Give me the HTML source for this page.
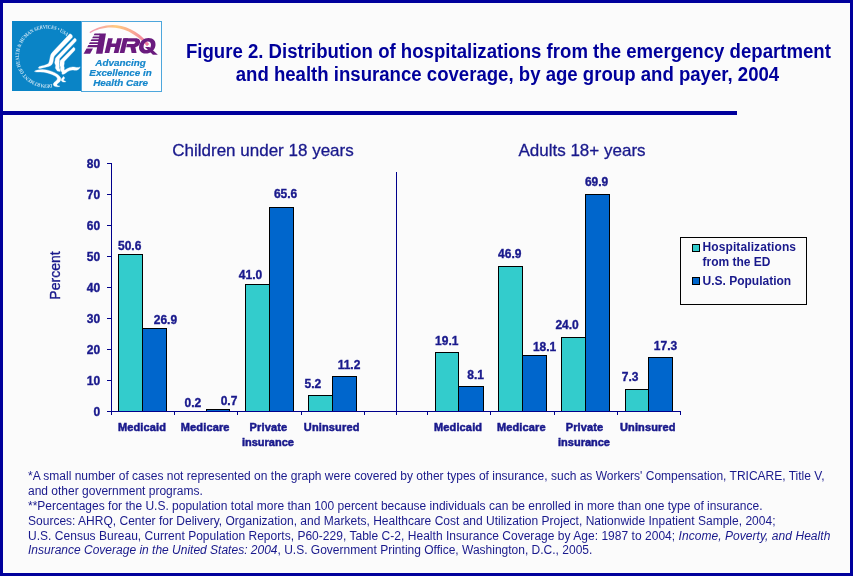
<!DOCTYPE html><html><head><meta charset="utf-8"><title>Figure 2</title>
<style>html,body{margin:0;padding:0;background:#FBFBFB;}body{width:853px;height:576px;overflow:hidden;position:relative;font-family:"Liberation Sans",sans-serif;}svg{position:absolute;left:0;top:0;will-change:transform;}text{font-family:"Liberation Sans",sans-serif;}</style></head><body>
<svg width="853" height="576" viewBox="0 0 853 576">
<defs><linearGradient id="arc" x1="0" x2="1" y1="0" y2="0"><stop offset="0" stop-color="#F08CB4"/><stop offset="0.45" stop-color="#FFC878"/><stop offset="0.75" stop-color="#F8A090"/><stop offset="1" stop-color="#F070A0"/></linearGradient></defs>
<rect x="0" y="0" width="853" height="576" fill="#FBFBFB"/>
<g shape-rendering="crispEdges" fill="#00009C">
<rect x="0" y="0" width="853" height="3"/><rect x="0" y="573" width="853" height="3"/><rect x="0" y="0" width="3" height="576"/><rect x="850" y="0" width="3" height="576"/>
<rect x="0" y="111" width="737" height="4"/>
</g>
<g id="logo">
<rect x="12" y="21" width="69" height="70" fill="#0A84C6" shape-rendering="crispEdges"/>
<rect x="81.5" y="21.5" width="80" height="69.5" fill="#FDFDFD" stroke="#4DA6DC" stroke-width="1" shape-rendering="crispEdges"/>
<path id="ring" d="M 52.0 84.0 A 28 28 0 1 1 66.4 36.3" fill="none"/>
<text style="font-family:'Liberation Serif',serif" font-weight="bold" font-size="5.2px" fill="#E4F1FA" opacity="0.9"><textPath href="#ring" textLength="114.4" lengthAdjust="spacingAndGlyphs">DEPARTMENT OF HEALTH &amp; HUMAN SERVICES • USA</textPath></text>
<g transform="translate(30,28) scale(0.11111)" fill="#FFFFFF" stroke="#FFFFFF" stroke-width="3" stroke-linejoin="round">
<!-- stripe A + beak -->
<path d="M 358,52 C 376,56 388,70 380,86 L 222,250 C 212,262 212,280 208,302 C 204,326 192,340 168,346 L 92,364 C 76,366 70,356 82,348 C 104,340 146,336 166,320 C 178,300 178,268 186,244 C 190,232 200,222 212,208 Z"/>
<!-- stripe B -->
<path d="M 400,92 C 414,94 422,106 414,120 L 268,272 C 260,284 268,298 262,314 C 256,330 268,340 264,354 C 260,368 276,376 272,392 L 246,388 C 240,374 222,362 230,346 C 238,332 216,322 224,302 C 230,288 222,276 238,262 Z"/>
<!-- stripe C -->
<path d="M 392,174 C 404,176 410,190 402,202 L 312,298 C 304,308 312,320 306,332 C 300,346 314,354 308,366 C 304,378 320,386 318,402 L 290,404 C 284,388 266,378 274,360 C 280,348 262,338 268,320 C 274,306 266,296 280,286 Z"/>
<!-- tail -->
<path d="M 296,392 C 320,372 350,352 384,350 C 410,350 426,364 452,350 C 444,372 424,384 398,380 C 372,374 344,386 322,404 C 310,414 296,420 286,414 Z"/>
<!-- lower swoosh -->
<path d="M 40,390 C 60,376 110,368 160,380 C 210,392 250,412 272,440 C 284,458 278,478 258,492 C 240,504 236,514 252,520 C 262,524 270,520 268,524 C 250,534 218,530 210,514 C 204,498 224,484 240,470 C 252,458 246,444 226,432 C 190,410 130,394 86,396 C 66,396 50,398 40,390 Z"/>
<path d="M 300,436 C 312,440 316,452 306,462 C 298,470 300,474 312,476 C 322,478 326,484 318,486 C 300,490 280,482 280,468 C 280,456 294,450 300,436 Z"/>
</g>
<!-- AHRQ -->
<path d="M 89.6 32.0 C 104 22.6, 127.6 19.4, 149.2 44.0 L 147.0 46.2 C 126.4 22.6, 104 25.4, 90.0 33.2 Z" fill="url(#arc)" opacity="0.95"/>
<g transform="translate(100,32) scale(0.07032)" fill="#6A1B7E">
<!-- H -->
<polygon points="115,90 182,90 132,300 65,300"/>
<polygon points="245,90 312,90 262,300 195,300"/>
<polygon points="150,165 290,165 278,215 138,215"/>
<!-- R -->
<polygon points="330,90 397,90 347,300 280,300"/>
<path d="M 340,90 L 505,90 C 560,90 578,122 568,160 C 558,200 522,218 482,218 L 372,218 L 383,172 L 468,172 C 490,172 500,162 503,150 C 506,138 497,135 482,135 L 385,135 Z"/>
<polygon points="432,210 502,210 520,300 450,300"/>
<!-- Q -->
<path fill-rule="evenodd" d="M 690,84 C 760,84 800,130 788,195 C 776,262 720,306 650,306 C 582,306 545,260 557,195 C 569,130 622,84 690,84 Z M 682,134 C 650,134 625,160 620,195 C 615,232 630,256 660,256 C 692,256 718,230 724,195 C 730,160 714,134 682,134 Z"/>
<polygon points="640,212 702,212 822,322 752,322"/>
</g>
<!-- A with speed lines -->
<g transform="translate(80,22) scale(0.09615)" fill="#6A1B7E">
<polygon points="205,120 270,120 234,330 166,330"/>
<polygon points="152,120 210,120 208,138 142,138"/>
<polygon points="136,150 205,150 202,168 126,168"/>
<polygon points="120,180 200,180 197,198 110,198"/>
<polygon points="103,210 195,210 192,228 93,228"/>
<polygon points="87,240 200,240 196,262 75,262"/>
<polygon points="68,275 135,275 105,330 37,330"/>
</g>
<g font-weight="bold" font-style="italic" font-size="9.9px" fill="#1486CB" stroke="#1486CB" stroke-width="0.2" text-anchor="middle">
<text x="120.6" y="66">Advancing</text>
<text x="120.6" y="75.8">Excellence in</text>
<text x="120.6" y="85.8">Health Care</text>
</g>
</g>

<g font-weight="bold" font-size="19.4px" fill="#00009B">
<text x="185.9" y="57.9" textLength="645" lengthAdjust="spacingAndGlyphs">Figure 2. Distribution of hospitalizations from the emergency department</text>
<text x="235.7" y="80.9" textLength="543.5" lengthAdjust="spacingAndGlyphs">and health insurance coverage, by age group and payer, 2004</text>
</g>
<g font-size="17px" fill="#19198C" stroke="#19198C" stroke-width="0.3" text-anchor="middle">
<text x="263" y="155.7">Children under 18 years</text>
<text x="582" y="155.7">Adults 18+ years</text>
</g>
<g shape-rendering="crispEdges" fill="#00008B">
<rect x="111" y="163" width="1" height="249"/>
<rect x="107" y="411" width="574" height="1"/>
<rect x="107" y="163" width="4" height="1"/>
<rect x="107" y="194" width="4" height="1"/>
<rect x="107" y="225" width="4" height="1"/>
<rect x="107" y="256" width="4" height="1"/>
<rect x="107" y="287" width="4" height="1"/>
<rect x="107" y="318" width="4" height="1"/>
<rect x="107" y="349" width="4" height="1"/>
<rect x="107" y="380" width="4" height="1"/>
<rect x="111" y="411" width="1" height="4"/>
<rect x="174" y="411" width="1" height="4"/>
<rect x="237" y="411" width="1" height="4"/>
<rect x="301" y="411" width="1" height="4"/>
<rect x="364" y="411" width="1" height="4"/>
<rect x="427" y="411" width="1" height="4"/>
<rect x="490" y="411" width="1" height="4"/>
<rect x="554" y="411" width="1" height="4"/>
<rect x="617" y="411" width="1" height="4"/>
<rect x="680" y="411" width="1" height="4"/>
<rect x="396" y="172" width="1" height="243"/>
</g>
<g shape-rendering="crispEdges" stroke="#000" stroke-width="1">
<rect x="118.5" y="254.5" width="24" height="157" fill="#33CCCC"/>
<rect x="142.5" y="328.5" width="24" height="83" fill="#0066CC"/>
<rect x="206.5" y="409.5" width="23" height="2" fill="#0066CC"/>
<rect x="245.5" y="284.5" width="24" height="127" fill="#33CCCC"/>
<rect x="269.5" y="207.5" width="24" height="204" fill="#0066CC"/>
<rect x="308.5" y="395.5" width="24" height="16" fill="#33CCCC"/>
<rect x="332.5" y="376.5" width="24" height="35" fill="#0066CC"/>
<rect x="435.5" y="352.5" width="23" height="59" fill="#33CCCC"/>
<rect x="458.5" y="386.5" width="25" height="25" fill="#0066CC"/>
<rect x="498.5" y="266.5" width="24" height="145" fill="#33CCCC"/>
<rect x="522.5" y="355.5" width="24" height="56" fill="#0066CC"/>
<rect x="561.5" y="337.5" width="24" height="74" fill="#33CCCC"/>
<rect x="585.5" y="194.5" width="24" height="217" fill="#0066CC"/>
<rect x="625.5" y="389.5" width="23" height="22" fill="#33CCCC"/>
<rect x="648.5" y="357.5" width="24" height="54" fill="#0066CC"/>
</g>
<rect x="107" y="411" width="574" height="1" fill="#00008B" shape-rendering="crispEdges"/>
<g font-weight="bold" font-size="12px" fill="#19198C" stroke="#19198C" stroke-width="0.35" text-anchor="middle">
<text x="129.7" y="249.6">50.6</text>
<text x="165.4" y="323.9">26.9</text>
<text x="192.9" y="406.8">0.2</text>
<text x="229.0" y="404.7">0.7</text>
<text x="250.5" y="279.0">41.0</text>
<text x="285.6" y="197.8">65.6</text>
<text x="312.9" y="387.7">5.2</text>
<text x="349.0" y="369.0">11.2</text>
<text x="446.8" y="344.9">19.1</text>
<text x="475.6" y="378.8">8.1</text>
<text x="509.8" y="258.0">46.9</text>
<text x="544.6" y="350.7">18.1</text>
<text x="567.1" y="328.8">24.0</text>
<text x="596.6" y="185.9">69.9</text>
<text x="630.2" y="380.7">7.3</text>
<text x="665.5" y="349.9">17.3</text>
</g>
<g font-weight="bold" font-size="12px" fill="#19198C" stroke="#19198C" stroke-width="0.35" text-anchor="end">
<text x="100.2" y="167.8">80</text>
<text x="100.2" y="198.8">70</text>
<text x="100.2" y="229.8">60</text>
<text x="100.2" y="260.8">50</text>
<text x="100.2" y="291.8">40</text>
<text x="100.2" y="322.8">30</text>
<text x="100.2" y="353.8">20</text>
<text x="100.2" y="384.8">10</text>
<text x="100.2" y="415.8">0</text>
</g>
<text transform="translate(60.3,275.5) rotate(-90)" font-size="14px" fill="#19198C" stroke="#19198C" stroke-width="0.35" text-anchor="middle">Percent</text>
<g font-weight="bold" font-size="11px" fill="#19198C" stroke="#19198C" stroke-width="0.5" text-anchor="middle">
<text x="142.0" y="431" letter-spacing="0.14">Medicaid</text>
<text x="205.2" y="431" letter-spacing="0.14">Medicare</text>
<text x="268.4" y="431" letter-spacing="0.14">Private</text>
<text x="267.9" y="446">insurance</text>
<text x="331.7" y="431" letter-spacing="0.14">Uninsured</text>
<text x="458.1" y="431" letter-spacing="0.14">Medicaid</text>
<text x="521.3" y="431" letter-spacing="0.14">Medicare</text>
<text x="584.5" y="431" letter-spacing="0.14">Private</text>
<text x="584.0" y="446">insurance</text>
<text x="647.8" y="431" letter-spacing="0.14">Uninsured</text>
</g>
<g shape-rendering="crispEdges"><rect x="680.5" y="237.5" width="126" height="67" fill="#FBFBFB" stroke="#000"/>
<rect x="692.5" y="244.5" width="7" height="7" fill="#33CCCC" stroke="#000"/>
<rect x="692.5" y="277.5" width="7" height="7" fill="#0066CC" stroke="#000"/></g>
<g font-weight="bold" font-size="12px" fill="#19198C">
<text x="702.5" y="250.7" textLength="93.5">Hospitalizations</text>
<text x="702.5" y="265.7">from the ED</text>
<text x="702.5" y="285">U.S. Population</text>
</g>
<g font-size="12px" fill="#19198C">
<text x="28" y="480.0">*A small number of cases not represented on the graph were covered by other types of insurance, such as Workers' Compensation, TRICARE, Title V,</text>
<text x="28" y="494.8">and other government programs.</text>
<text x="28" y="509.7">**Percentages for the U.S. population total more than 100 percent because individuals can be enrolled in more than one type of insurance.</text>
<text x="28" y="525.4" textLength="747.5">Sources: AHRQ, Center for Delivery, Organization, and Markets, Healthcare Cost and Utilization Project, Nationwide Inpatient Sample, 2004;</text>
<text x="28" y="539.5"><tspan letter-spacing="0.026">U.S. Census Bureau, Current Population Reports, P60-229, Table C-2, Health Insurance Coverage by Age: 1987 to 2004; </tspan><tspan font-style="italic" letter-spacing="0.05">Income, Poverty, and Health</tspan></text>
<text x="28" y="554.2"><tspan font-style="italic">Insurance Coverage in the United States: 2004</tspan>, U.S. Government Printing Office, Washington, D.C., 2005.</text>
</g>
</svg></body></html>
